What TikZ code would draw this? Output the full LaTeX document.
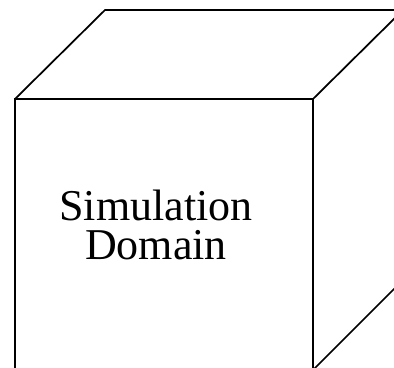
\documentclass[tikz,border=0pt]{standalone}
\usepackage{fontspec}
\setmainfont{Liberation Serif}
\usetikzlibrary{positioning}

\begin{document}
\begin{tikzpicture}[x=0.75pt, y=-0.75pt, line width=1.3pt, line join=miter,
    domaintext/.style={align=center, font=\fontsize{33}{29.5}\selectfont}]

    \useasboundingbox (0,0) rectangle (394,368);
    \clip (0,0) rectangle (394,368);

    % corners of the cube (back ones partly off the page)
    \coordinate (fl) at (15,99);
    \coordinate (fr) at (313,99);
    \coordinate (br) at (313,370);
    \coordinate (bl) at (15,370);
    \coordinate (tl) at (105,10);
    \coordinate (tr) at (403,10);
    \coordinate (rb) at (403,280);

    % front face
    \draw (fl) -- (fr) -- (br) -- (bl) -- cycle;
    % top and side
    \draw (fl) -- (tl) -- (tr) -- (fr);
    \draw (tr) -- (rb) -- (br);

    \node[domaintext] (domain) at (156,225) {Simulation\\Domain};

\end{tikzpicture}
\end{document}
